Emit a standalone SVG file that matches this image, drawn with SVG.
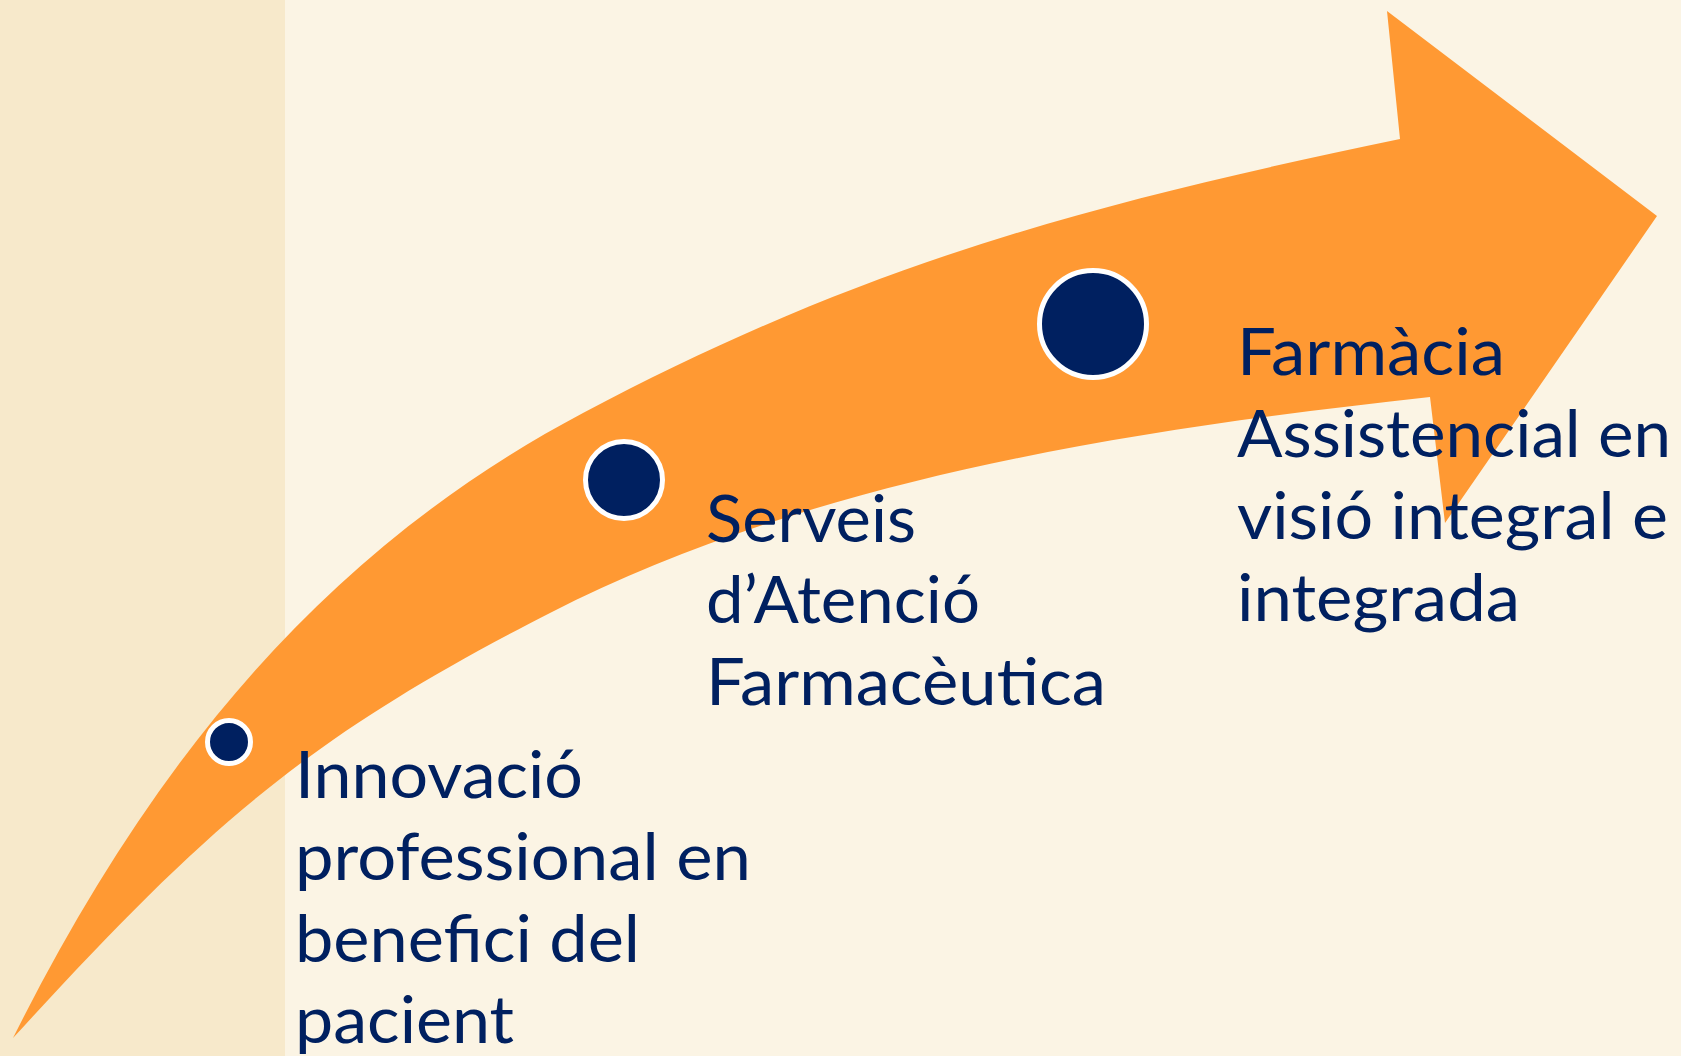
<svg xmlns="http://www.w3.org/2000/svg" width="1681" height="1056" viewBox="0 0 1681 1056">
<style>
.bg{fill:#FBF4E4}
.panel{fill:#F7E9CB}
.arrow{fill:#FF9933}
.dot{fill:#002060;stroke:#FFFFFF;stroke-width:5}
.lbl{font-family:Lato,"Liberation Sans",sans-serif;font-size:65px;fill:#002060}
</style>
<rect class="bg" x="0" y="0" width="1681" height="1056"/>
<rect class="panel" x="0" y="0" width="285" height="1056"/>
<g id="connectors">
<path id="arrow" class="arrow" d="M13,1038 C147.1,769.8 317.8,553.4 583,413 C865.9,263.2 1086.7,204.4 1400,139 L1387,11 L1657,216 L1445,523 L1430,397 C1132,430 817,477 550,613 C300.5,740.1 202.3,831.6 13,1038 Z"/>
</g>
<g id="node-1">
<circle class="dot" cx="229" cy="742" r="21.5"/>
<text class="lbl" x="295" y="798" textLength="288" lengthAdjust="spacingAndGlyphs">Innovació</text>
<text class="lbl" x="295" y="880" textLength="456" lengthAdjust="spacingAndGlyphs">professional en</text>
<text class="lbl" x="295" y="962" textLength="345" lengthAdjust="spacingAndGlyphs">benefici del</text>
<text class="lbl" x="295" y="1043" textLength="219" lengthAdjust="spacingAndGlyphs">pacient</text>
</g>
<g id="node-2">
<circle class="dot" cx="624" cy="480" r="38.5"/>
<text class="lbl" x="706" y="542" textLength="210" lengthAdjust="spacingAndGlyphs">Serveis</text>
<text class="lbl" x="706" y="623" textLength="274" lengthAdjust="spacingAndGlyphs">d’Atenció</text>
<text class="lbl" x="706" y="705" textLength="400" lengthAdjust="spacingAndGlyphs">Farmacèutica</text>
</g>
<g id="node-3">
<circle class="dot" cx="1093" cy="324" r="53.5"/>
<text class="lbl" x="1237" y="375" textLength="268" lengthAdjust="spacingAndGlyphs">Farmàcia</text>
<text class="lbl" x="1237" y="457" textLength="434" lengthAdjust="spacingAndGlyphs">Assistencial en</text>
<text class="lbl" x="1237" y="539" textLength="431" lengthAdjust="spacingAndGlyphs">visió integral e</text>
<text class="lbl" x="1237" y="621" textLength="283" lengthAdjust="spacingAndGlyphs">integrada</text>
</g>
</svg>
